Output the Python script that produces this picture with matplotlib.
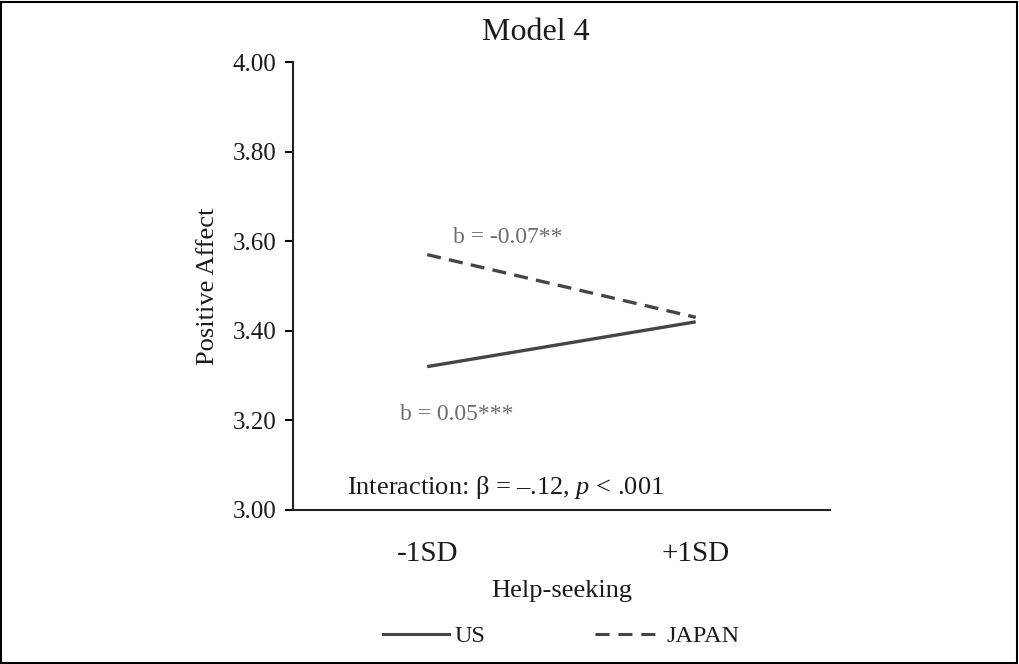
import matplotlib
matplotlib.use("Agg")
import matplotlib.pyplot as plt
from matplotlib.lines import Line2D
from matplotlib.patches import Rectangle

# data
levels = ["-1SD", "+1SD"]
us_vals = [3.32, 3.42]
japan_vals = [3.57, 3.43]
y_ticks = [3.00, 3.20, 3.40, 3.60, 3.80, 4.00]

plt.rcParams['font.family'] = ['Liberation Serif', 'DejaVu Serif']
plt.rcParams['mathtext.fontset'] = 'custom'
plt.rcParams['mathtext.rm'] = 'Liberation Serif'
plt.rcParams['mathtext.it'] = 'Liberation Serif:italic'
line_col = '#454545'
note_col = '#6e6e6e'
text_col = '#1a1a1a'

fig = plt.figure(figsize=(10.19, 6.64), dpi=100)
ax = fig.add_axes([0.2875, 0.232, 0.527, 0.6746])

x = range(len(levels))
ax.plot(x, us_vals, color=line_col, lw=2.4, solid_capstyle='butt')
ax.plot(x, japan_vals, color=line_col, lw=2.4, ls=(0, (4.2, 2.5)),
        dash_capstyle='butt')

ax.set_xlim(-0.5, 1.5)
ax.set_ylim(3.0, 4.0)
ax.set_yticks(y_ticks)
ax.set_yticklabels([f"{v:.2f}" for v in y_ticks], fontsize=18, color=text_col)
ax.tick_params(axis='y', direction='out', length=6, width=1.5, pad=6)
ax.set_xticks(list(x))
ax.set_xticklabels(levels, fontsize=21, color=text_col)
ax.tick_params(axis='x', length=0, pad=22)

for s in ['top', 'right']:
    ax.spines[s].set_visible(False)
for s in ['left', 'bottom']:
    ax.spines[s].set_linewidth(1.5)
    ax.spines[s].set_color('#222222')

ax.set_ylabel("Positive Affect", fontsize=19, labelpad=10, color=text_col)
ax.set_xlabel("Help-seeking", fontsize=19, labelpad=10, color=text_col)
ax.set_title("Model 4", fontsize=23, pad=16, color=text_col, x=0.4525)

ax.text(0.30, 3.609, "b = -0.07**", color=note_col, fontsize=17,
        ha='center', va='center')
ax.text(0.11, 3.212, "b = 0.05***", color=note_col, fontsize=17,
        ha='center', va='center')
ax.text(0.29, 3.05, r"Interaction: β = –.12, $\it{p}$ < .001", fontsize=19,
        ha='center', va='center', color=text_col)

handles = [Line2D([], [], color=line_col, lw=2.2),
           Line2D([], [], color=line_col, lw=2.2, ls=(0, (4.6, 2.9)),
                  dash_capstyle='butt')]
fig.legend(handles, ["US", "JAPAN"], loc='center', bbox_to_anchor=(0.551, 0.042),
           ncol=2, frameon=False, fontsize=17.5, handlelength=2.7,
           handletextpad=0.25, columnspacing=4.5, labelcolor=text_col)

fig.patches.append(Rectangle((0.001, 0.0015), 0.997, 0.996, transform=fig.transFigure,
                             fill=False, edgecolor='black', lw=1.5))

fig.savefig("out.png", dpi=100)
